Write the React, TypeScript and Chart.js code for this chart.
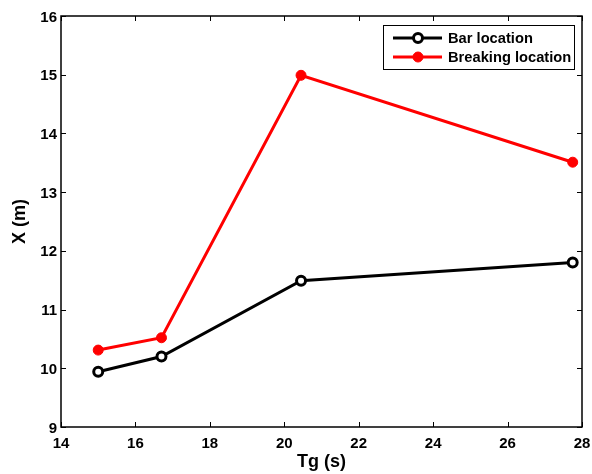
import React, { useEffect, useRef } from "react";
import { Chart, registerables } from "chart.js";

Chart.register(...registerables);

const tgValues = [15.0, 16.7, 20.45, 27.75];
const barLocation = [9.94, 10.2, 11.49, 11.8];
const breakingLocation = [10.31, 10.52, 14.99, 13.51];
const seriesNames = ["Bar location", "Breaking location"];
const xTicks = [14, 16, 18, 20, 22, 24, 26, 28];
const yTicks = [9, 10, 11, 12, 13, 14, 15, 16];
const xTitle = "Tg (s)";
const yTitle = "X (m)";

const FONT = "'Liberation Sans', Arial, sans-serif";

const boxPlugin = {
  id: "matlabBox",
  afterDraw(chart: any) {
    const { ctx, chartArea: a, scales } = chart;
    const x = scales.x;
    const y = scales.y;
    ctx.save();
    ctx.strokeStyle = "#000";
    ctx.lineWidth = 1.5;
    ctx.strokeRect(a.left, a.top, a.right - a.left, a.bottom - a.top);
    ctx.lineWidth = 1;
    const tl = 5;
    ctx.beginPath();
    xTicks.forEach((v) => {
      const px = Math.round(x.getPixelForValue(v)) + 0.5;
      ctx.moveTo(px, a.bottom);
      ctx.lineTo(px, a.bottom - tl);
      ctx.moveTo(px, a.top);
      ctx.lineTo(px, a.top + tl);
    });
    yTicks.forEach((v) => {
      const py = Math.round(y.getPixelForValue(v)) + 0.5;
      ctx.moveTo(a.left, py);
      ctx.lineTo(a.left + tl, py);
      ctx.moveTo(a.right, py);
      ctx.lineTo(a.right - tl, py);
    });
    ctx.stroke();

    // legend
    const lx = 383, ly = 25, lw = 191, lh = 44;
    ctx.fillStyle = "#fff";
    ctx.fillRect(lx, ly, lw, lh);
    ctx.strokeStyle = "#000";
    ctx.lineWidth = 1;
    ctx.strokeRect(lx + 0.5, ly + 0.5, lw, lh);
    const rows = [38, 57];
    chart.data.datasets.forEach((ds: any, i: number) => {
      const ry = rows[i];
      ctx.strokeStyle = ds.borderColor;
      ctx.lineWidth = 3;
      ctx.beginPath();
      ctx.moveTo(393, ry);
      ctx.lineTo(442, ry);
      ctx.stroke();
      ctx.beginPath();
      ctx.arc(418, ry, ds.pointRadius, 0, Math.PI * 2);
      ctx.fillStyle = ds.pointBackgroundColor;
      ctx.fill();
      ctx.lineWidth = ds.pointBorderWidth;
      ctx.strokeStyle = ds.pointBorderColor;
      ctx.stroke();
      ctx.fillStyle = "#000";
      ctx.font = `bold 14.7px ${FONT}`;
      ctx.textBaseline = "middle";
      ctx.textAlign = "left";
      ctx.fillText(ds.label, 448, ry + 1);
    });
    ctx.restore();
  },
};

export default function App() {
  const ref = useRef<HTMLCanvasElement>(null);
  useEffect(() => {
    document.body.style.margin = "0";
    const chart = new Chart(ref.current!, {
      type: "line",
      data: {
        datasets: [
          {
            label: seriesNames[0],
            data: tgValues.map((t, i) => ({ x: t, y: barLocation[i] })),
            borderColor: "#000",
            borderWidth: 3,
            pointRadius: 4.5,
            pointBorderWidth: 3,
            pointBackgroundColor: "#fff",
            pointBorderColor: "#000",
            tension: 0,
          },
          {
            label: seriesNames[1],
            data: tgValues.map((t, i) => ({ x: t, y: breakingLocation[i] })),
            borderColor: "#ff0000",
            borderWidth: 3,
            pointRadius: 5,
            pointBorderWidth: 1,
            pointBackgroundColor: "#ff0000",
            pointBorderColor: "#ff0000",
            tension: 0,
          },
        ],
      },
      plugins: [boxPlugin],
      options: {
        animation: false,
        responsive: false,
        layout: { padding: { left: 0, right: 10, top: 16, bottom: 0 } },
        plugins: { legend: { display: false }, tooltip: { enabled: false } },
        scales: {
          x: {
            type: "linear",
            min: 14,
            max: 28,
            afterFit: (s: any) => {
              s.height = 47;
              s.paddingLeft = 0;
              s.paddingRight = 0;
            },
            afterBuildTicks: (s: any) => {
              s.ticks = xTicks.map((v) => ({ value: v }));
            },
            grid: { display: false, drawTicks: false },
            border: { display: false },
            ticks: {
              color: "#000",
              font: { family: FONT, size: 15, weight: "bold" },
              padding: 8,
              maxRotation: 0,
            },
            title: {
              display: true,
              text: xTitle,
              color: "#000",
              font: { family: FONT, size: 18, weight: "bold" },
              padding: { top: 0, bottom: 1 },
            },
          },
          y: {
            type: "linear",
            min: 9,
            max: 16,
            afterFit: (s: any) => {
              s.width = 61;
              s.paddingTop = 0;
              s.paddingBottom = 0;
            },
            afterBuildTicks: (s: any) => {
              s.ticks = yTicks.map((v) => ({ value: v }));
            },
            grid: { display: false, drawTicks: false },
            border: { display: false },
            ticks: {
              color: "#000",
              font: { family: FONT, size: 15, weight: "bold" },
              padding: 4,
              labelOffset: 1.5,
            },
            title: {
              display: true,
              text: yTitle,
              color: "#000",
              font: { family: FONT, size: 18, weight: "bold" },
              padding: { top: 9, bottom: 0 },
            },
          },
        },
      },
    });
    return () => chart.destroy();
  }, []);
  return <canvas ref={ref} width={592} height={474} style={{ display: "block" }} />;
}
